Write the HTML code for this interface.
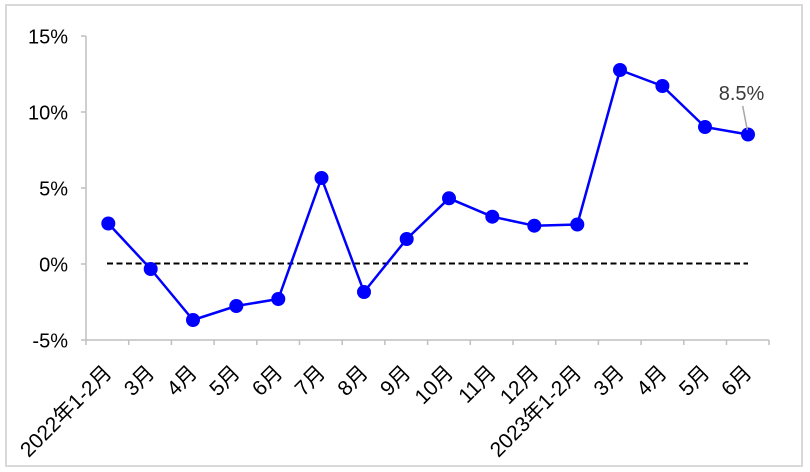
<!DOCTYPE html>
<html><head><meta charset="utf-8"><style>
html,body{margin:0;padding:0;background:#fff;}
svg{display:block;}
text{font-family:"Liberation Sans","Noto Sans CJK SC",sans-serif;}
</style></head><body>
<svg width="810" height="472" viewBox="0 0 810 472" xmlns="http://www.w3.org/2000/svg">
<rect x="0" y="0" width="810" height="472" fill="#fff"/>
<rect x="6" y="5" width="796" height="461" fill="#fff" stroke="#d9d9d9" stroke-width="2"/>
<g stroke="#bfbfbf" stroke-width="1.5" fill="none">
<line x1="86" y1="36" x2="86" y2="340"/>
<line x1="81" y1="36" x2="86" y2="36"/>
<line x1="81" y1="112" x2="86" y2="112"/>
<line x1="81" y1="188" x2="86" y2="188"/>
<line x1="81" y1="264" x2="86" y2="264"/>
<line x1="81" y1="340" x2="86" y2="340"/>
<line x1="86" y1="340" x2="769" y2="340"/>
<line x1="86" y1="340" x2="86" y2="345"/>
<line x1="128.7" y1="340" x2="128.7" y2="345"/>
<line x1="171.4" y1="340" x2="171.4" y2="345"/>
<line x1="214.1" y1="340" x2="214.1" y2="345"/>
<line x1="256.8" y1="340" x2="256.8" y2="345"/>
<line x1="299.5" y1="340" x2="299.5" y2="345"/>
<line x1="342.2" y1="340" x2="342.2" y2="345"/>
<line x1="384.9" y1="340" x2="384.9" y2="345"/>
<line x1="427.6" y1="340" x2="427.6" y2="345"/>
<line x1="470.3" y1="340" x2="470.3" y2="345"/>
<line x1="513" y1="340" x2="513" y2="345"/>
<line x1="555.7" y1="340" x2="555.7" y2="345"/>
<line x1="598.4" y1="340" x2="598.4" y2="345"/>
<line x1="641.1" y1="340" x2="641.1" y2="345"/>
<line x1="683.8" y1="340" x2="683.8" y2="345"/>
<line x1="726.5" y1="340" x2="726.5" y2="345"/>
<line x1="769" y1="340" x2="769" y2="345"/>
</g>
<g font-size="20" fill="#000" text-anchor="end">
<text x="68" y="43.5">15%</text>
<text x="68" y="119.5">10%</text>
<text x="68" y="195.5">5%</text>
<text x="68" y="271.5">0%</text>
<text x="68" y="347.5">-5%</text>
</g>
<line x1="107" y1="263.5" x2="748" y2="263.5" stroke="#000" stroke-width="2" stroke-dasharray="6,3.5"/>
<polyline fill="none" stroke="#0000ff" stroke-width="2.5" stroke-linejoin="round"
points="108.3,223.5 150.7,269 193,320 236.3,306 278.3,299 321.5,178 364,292 406.7,239 449,198.3 492.3,216.7 534.3,225.7 577.3,224.5 620,70 662.4,86 705,127 748,134.5"/>
<g fill="#0000ff">
<circle cx="108.3" cy="223.5" r="7"/>
<circle cx="150.7" cy="269" r="7"/>
<circle cx="193" cy="320" r="7"/>
<circle cx="236.3" cy="306" r="7"/>
<circle cx="278.3" cy="299" r="7"/>
<circle cx="321.5" cy="178" r="7"/>
<circle cx="364" cy="292" r="7"/>
<circle cx="406.7" cy="239" r="7"/>
<circle cx="449" cy="198.3" r="7"/>
<circle cx="492.3" cy="216.7" r="7"/>
<circle cx="534.3" cy="225.7" r="7"/>
<circle cx="577.3" cy="224.5" r="7"/>
<circle cx="620" cy="70" r="7"/>
<circle cx="662.4" cy="86" r="7"/>
<circle cx="705" cy="127" r="7"/>
<circle cx="748" cy="134.5" r="7"/>
</g>
<line x1="742.7" y1="106" x2="747.3" y2="130" stroke="#a6a6a6" stroke-width="1.5"/>
<text x="741.5" y="100" font-size="20" fill="#3a3a3a" text-anchor="middle">8.5%</text>
<g font-size="21" fill="#000" text-anchor="end">
<text transform="translate(113,374) rotate(-45)">2022年1-2月</text>
<text transform="translate(155.7,374) rotate(-45)">3月</text>
<text transform="translate(198.4,374) rotate(-45)">4月</text>
<text transform="translate(241.1,374) rotate(-45)">5月</text>
<text transform="translate(283.8,374) rotate(-45)">6月</text>
<text transform="translate(326.5,374) rotate(-45)">7月</text>
<text transform="translate(369.2,374) rotate(-45)">8月</text>
<text transform="translate(411.9,374) rotate(-45)">9月</text>
<text transform="translate(454.6,374) rotate(-45)">10月</text>
<text transform="translate(497.3,374) rotate(-45)">11月</text>
<text transform="translate(540,374) rotate(-45)">12月</text>
<text transform="translate(582.7,374) rotate(-45)">2023年1-2月</text>
<text transform="translate(625.4,374) rotate(-45)">3月</text>
<text transform="translate(668.1,374) rotate(-45)">4月</text>
<text transform="translate(710.8,374) rotate(-45)">5月</text>
<text transform="translate(753,374) rotate(-45)">6月</text>
</g>
</svg>
</body></html>
